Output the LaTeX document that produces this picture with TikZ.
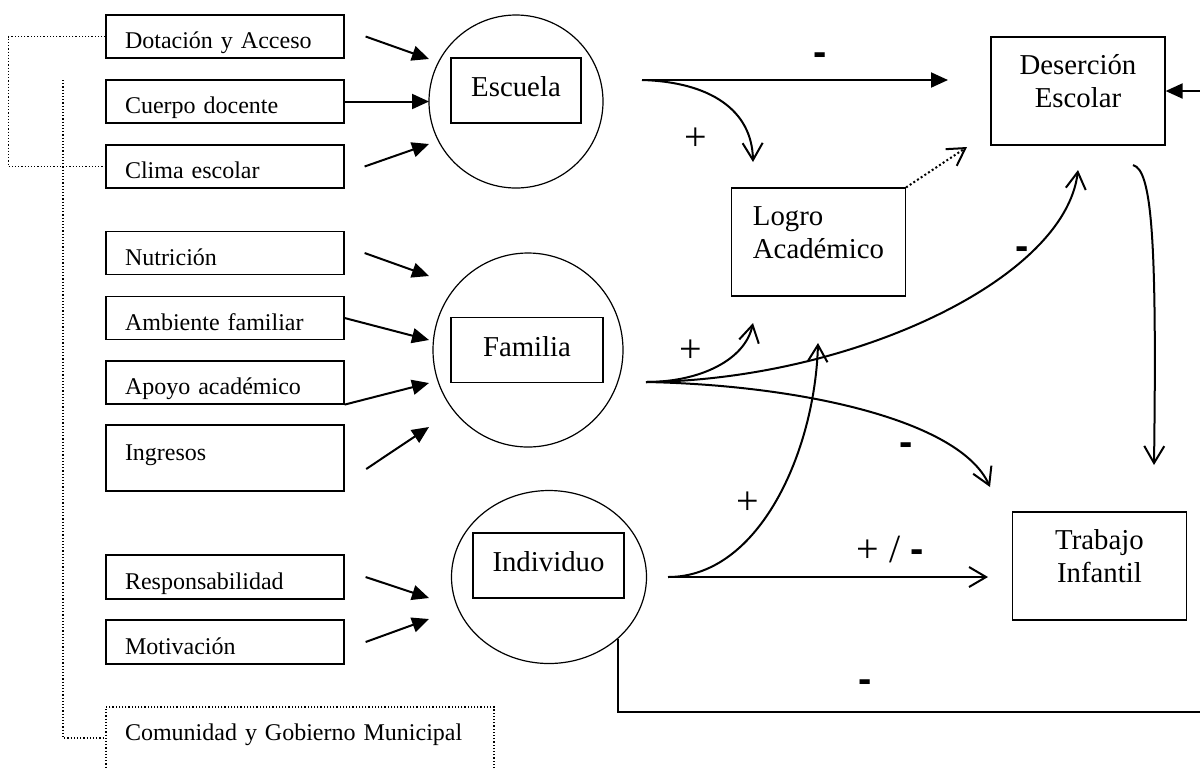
\documentclass[tikz,border=0pt]{standalone}
\usepackage{fontspec}
\setmainfont{Liberation Serif}
\newfontfamily\signfont{Liberation Sans}
\usetikzlibrary{arrows.meta,shapes.geometric}

\begin{document}
\begin{tikzpicture}[x=0.5pt, y=-0.5pt,
  factor/.style={draw, line width=0.6pt, minimum height=21.5pt, text width=100pt,
    align=left, inner xsep=9.5pt, text height=13pt, text depth=1pt,
    font=\fontsize{12}{14}\selectfont},
  ring/.style={draw, ellipse, line width=0.6pt, inner sep=0pt},
  core/.style={draw, line width=0.6pt, minimum height=32.5pt, text height=10pt,
    text depth=4pt, font=\fontsize{14.4}{16.5}\selectfont},
  outcome/.style={draw, line width=0.6pt, minimum width=87pt, minimum height=54pt,
    text height=1pt, text depth=18pt, font=\fontsize{14.4}{16.5}\selectfont},
  link/.style={line width=1pt},
  solidtip/.style={-{Triangle[length=8.5pt,width=7.5pt]}},
  opentip/.style={-{Straight Barb[length=8.5pt,width=10pt]}},
  sign/.style={inner sep=0pt, text height=12pt, text depth=0pt,
    font=\fontsize{20}{20}\selectfont},
  minus/.style={sign, font=\signfont\bfseries\fontsize{20}{20}\selectfont},
  guide/.style={densely dotted, line width=0.6pt}]
\clip (0,0) rectangle (1200,768);

% factors on the left
\node [factor] (dot) at (225,36.5) {Dotación y Acceso};
\node [factor] (cue) at (225,101.5) {Cuerpo docente};
\node [factor] (cli) at (225,166.5) {Clima escolar};
\node [factor] (nut) at (225,253) {Nutrición};
\node [factor] (amb) at (225,318) {Ambiente familiar};
\node [factor] (apo) at (225,382.5) {Apoyo académico};
\node [factor, line width=1.2pt, minimum height=33pt, text height=9pt, text depth=7pt] (ing) at (225,458) {Ingresos};
\node [factor, minimum height=22pt] (res) at (225,577) {Responsabilidad};
\node [factor, minimum height=22pt] (mot) at (225,642) {Motivación};
\node [factor, guide, line width=0.7pt, text width=175pt, minimum height=51pt, text height=1pt, text depth=18.6pt] (com) at (300,758) {Comunidad y Gobierno Municipal};

% the three levels
\node [ring, minimum width=87pt, minimum height=86.5pt] (esc) at (516,101.5) {};
\node [ring, minimum width=95pt, minimum height=97pt] (fam) at (528,350) {};
\node [ring, minimum width=97.5pt, minimum height=86.5pt] (ind) at (549,577) {};
\node [core, minimum width=65pt] (escbox) at (516,90.5) {Escuela};
\node [core, minimum width=76pt] (fambox) at (527,350) {Familia};
\node [core, minimum width=75.5pt] (indbox) at (548.5,565.5) {Individuo};

% outcomes
\node [outcome] (des) at (1078,91) {\begin{tabular}[t]{@{}c@{}}Deserción\\Escolar\end{tabular}};
\node [outcome] (logro) at (818.5,242) {\begin{tabular}[t]{@{}l@{}}Logro\\Académico\end{tabular}};
\node [outcome] (trab) at (1099.5,566) {\begin{tabular}[t]{@{}c@{}}Trabajo\\Infantil\end{tabular}};

% free ends
\coordinate (escin1) at (429,59);
\coordinate (escin2) at (429,101.5);
\coordinate (escin3) at (429,144);
\coordinate (famin1) at (429,276);
\coordinate (famin2) at (429,340);
\coordinate (famin3) at (429,383);
\coordinate (famin4) at (429,427);
\coordinate (indin1) at (429,598);
\coordinate (indin2) at (429,619);
\coordinate (escout) at (642,80);
\coordinate (famout) at (646,382);
\coordinate (indout) at (668,577);
\coordinate (desin) at (948,80);
\coordinate (desdot) at (967,147);
\coordinate (desbot) at (1078,170);
\coordinate (logtop) at (753,162);
\coordinate (logbot1) at (753,323);
\coordinate (logbot2) at (818,343);
\coordinate (trabin1) at (990,487);
\coordinate (trabin2) at (988,577);
\coordinate (desout) at (1133,165);
\coordinate (trabtop) at (1154,465);
\coordinate (loopin) at (1205,91);
\coordinate (loopout) at (1205,712);
\coordinate (comtop) at (63,80);

% inputs
\draw [link, solidtip] ([xshift=10.5pt]dot.east) -- (escin1);
\draw [link, solidtip] (cue.east) -- (escin2);
\draw [link, solidtip] ([xshift=10pt]cli.east) -- (escin3);
\draw [link, solidtip] ([xshift=10pt]nut.east) -- (famin1);
\draw [link, solidtip] (amb.east) -- (famin2);
\draw [link, solidtip] (apo.south east) -- (famin3);
\draw [link, solidtip] ([xshift=10.5pt, yshift=-5.5pt]ing.east) -- (famin4);
\draw [link, solidtip] ([xshift=10.5pt]res.east) -- (indin1);
\draw [link, solidtip] ([xshift=10.5pt]mot.east) -- (indin2);

% dotted guides
\draw [guide] (dot.west) -- ++(-97,0) |- (cli.west);
\draw [guide] (comtop) |- ([yshift=10pt]com.west);

% effects
\draw [link, solidtip] (escout) -- (desin);
\draw [link, opentip] (escout) .. controls (710,82) and (752,110) .. (logtop);
\draw [link, opentip, dash pattern=on 1pt off 1.2pt] (logro.north east) -- (desdot);
\draw [link, opentip] (famout) .. controls (700,382) and (745,360) .. (logbot1);
\draw [link, opentip] (famout) .. controls (850,380) and (1065,280) .. (desbot);
\draw [link, opentip] (famout) .. controls (800,385) and (960,420) .. (trabin1);
\draw [link, opentip] (indout) .. controls (760,577) and (815,450) .. (logbot2);
\draw [link, opentip] (indout) -- (trabin2);
\draw [link, opentip] (desout) .. controls (1152,170) and (1157,240) .. (trabtop);
\draw [link, solidtip] (loopin) -- (des.east);
\draw [link] (ind.south east) |- (loopout);

% signs
\node [minus] (s1) at (820,53) {-};
\node [sign] (s2) at (696,138) {+};
\node [sign] (s3) at (691,350) {+};
\node [minus] (s4) at (1022,247) {-};
\node [minus] (s5) at (906,443) {-};
\node [sign] (s6) at (748,502) {+};
\node [sign] (s7) at (890,550) {+ / {\signfont\bfseries -}};
\node [minus] (s8) at (865,680) {-};
\end{tikzpicture}
\end{document}
